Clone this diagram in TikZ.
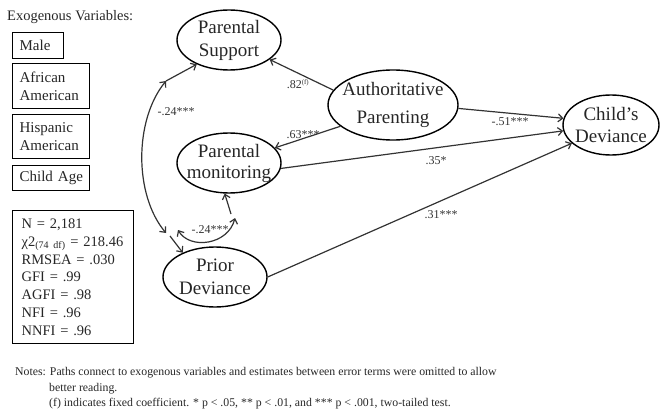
\documentclass[tikz,border=0pt]{standalone}
\usepackage{fontspec}
\setmainfont{Liberation Serif}
\usetikzlibrary{arrows.meta,shapes.geometric}
\tikzset{barb/.tip={Straight Barb[length=4.5pt,width=8pt,line width=1.2pt]}}
\begin{document}
\begin{tikzpicture}[x=1pt,y=-1pt,
  lat/.style={draw, ellipse, line width=1.4pt, inner sep=0pt, text=black!85},
  labtxt/.style={align=center, font=\fontsize{19}{#1}\selectfont, text=black!85},
  exo/.style={draw, rectangle, line width=1.3pt, anchor=north west, inner xsep=7pt, inner ysep=0pt, align=left, font=\fontsize{15}{18}\selectfont, text=black!85},
  arr/.style={line width=1.2pt, -barb, draw=black!80},
  dbl/.style={line width=1.2pt, barb-barb, draw=black!80},
  coef/.style={font=\fontsize{12}{12}\selectfont, inner sep=1pt, text=black!80},
]
\useasboundingbox (0,0) rectangle (660,414);

% title
\node[anchor=base west, inner sep=0pt, font=\fontsize{14.5}{17}\selectfont, text=black!85] (title) at (7,20.5) {Exogenous Variables:};

% exogenous boxes
\node[exo, text width=37pt, minimum height=26pt] (male) at (12,32) {Male};
\node[exo, text width=63pt, minimum height=45pt] (afam) at (12,63) {African\\American};
\node[exo, text width=63pt, minimum height=44pt] (hisp) at (12,114) {Hispanic\\American};
\node[exo, text width=63pt, minimum height=25pt] (age) at (12,165) {\mbox{Child Age}};

% fit statistics
\node[exo, inner xsep=9pt, text width=103pt, minimum height=133pt, font=\fontsize{14.5}{17.8}\selectfont] (fit) at (12,210)
  {N = 2,181\\
   χ2\textsubscript{\fontsize{10}{10}\selectfont(74 df)} = 218.46\\
   RMSEA = .030\\
   GFI = .99\\
   AGFI = .98\\
   NFI = .96\\
   NNFI = .96};

% latent variables
\node[lat, minimum width=104pt, minimum height=60pt,
  label={[labtxt=23pt]center:Parental\\Support}] (ps) at (229,40) {};
\node[lat, minimum width=130pt, minimum height=70pt,
  label={[labtxt=28pt]center:Authoritative\\Parenting}] (ap) at (393,105) {};
\node[lat, minimum width=104pt, minimum height=60pt,
  label={[labtxt=21pt]center:Parental\\monitoring}] (pm) at (229,163) {};
\node[lat, minimum width=104pt, minimum height=60pt,
  label={[labtxt=23pt]center:Prior\\Deviance}] (pd) at (215,277) {};
\node[lat, minimum width=96pt, minimum height=60pt,
  label={[labtxt=22pt]center:Child’s\\Deviance}] (cd) at (611,125) {};

% structural paths
\draw[arr] (ap.166) -- (ps);
\draw[arr] (ap.202) -- (pm);
\draw[arr] (ap.-3) -- (cd.172);
\draw[arr] (pm.-6) -- (cd.187);
\draw[arr] (pd.east) -- (cd.205);

% big covariance arc
\coordinate (a1) at (166,81);
\coordinate (a2) at (166,233);
\coordinate (a2s) at (170,236);
\draw[dbl] (a1) .. controls (134,120) and (134,195) .. (a2);
\draw[arr] (a1) -- (ps.217);
\draw[arr] (a2s) -- (pd.143);

% small covariance arc
\coordinate (s1) at (178,230);
\coordinate (s2) at (235,218);
\coordinate (s2s) at (231,214);
\draw[dbl] (s1) .. controls (190,250) and (228,245) .. (s2);
\draw[arr] (s2s) -- (pm.262);

% coefficients
\node[coef] (c82) at (298,84) {.82\textsuperscript{\fontsize{7}{7}\selectfont(f)}};
\node[coef] (c63) at (303,135) {.63***};
\node[coef] (c51) at (510,122) {-.51***};
\node[coef] (c35) at (436,161) {.35*};
\node[coef] (c31) at (441,215) {.31***};
\node[coef] (c24a) at (176,112) {-.24***};
\node[coef] (c24b) at (210,230) {-.24***};

% notes
\node[anchor=north west, inner sep=0pt, align=left, font=\fontsize{11.8}{15.5}\selectfont, text=black!85] (notes) at (15,367.5)
  {Notes: Paths connect to exogenous variables and estimates between error terms were omitted to allow\\
   \hspace*{34pt}better reading.\\
   \hspace*{34pt}(f) indicates fixed coefficient. * p < .05, ** p < .01, and *** p < .001, two-tailed test.};
\end{tikzpicture}
\end{document}
